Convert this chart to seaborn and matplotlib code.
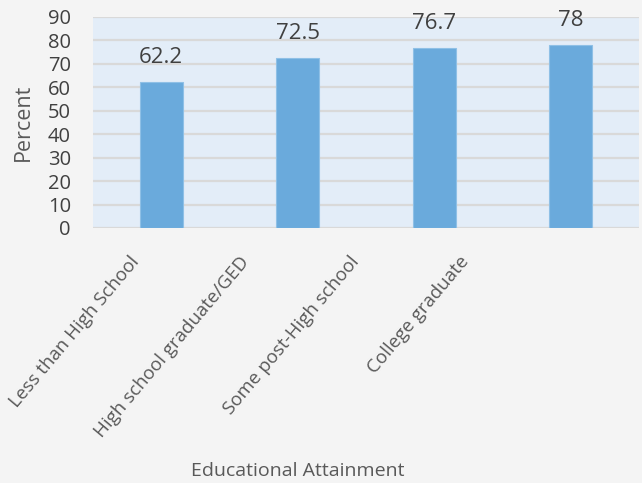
import matplotlib
matplotlib.use("Agg")
import matplotlib.pyplot as plt
import matplotlib.transforms as mtransforms
import seaborn as sns
import pandas as pd

categories = ["Less than High School", "High school graduate/GED",
              "Some post-High school", "College graduate"]
values = [62.2, 72.5, 76.7, 78]
value_labels = ["62.2", "72.5", "76.7", "78"]
yticks = [0, 10, 20, 30, 40, 50, 60, 70, 80, 90]

df = pd.DataFrame({"Educational Attainment": categories, "Percent": values})

sns.set_theme(style="white")
plt.rcParams["font.family"] = ["Open Sans", "DejaVu Sans"]

fig = plt.figure(figsize=(6.42, 4.83), dpi=100, facecolor="#f4f4f4")
ax = fig.add_axes([0.145, 0.528, 0.85, 0.437])
ax.set_facecolor("#e3edf8")

sns.barplot(data=df, x="Educational Attainment", y="Percent", ax=ax,
            color="#6aaadc", width=0.315, edgecolor="#8fc0e6", linewidth=0.8,
            saturation=1, zorder=3)

ax.set_ylim(0, 90)
ax.set_xlim(-0.5, 3.5)
ax.set_yticks(yticks)
ax.yaxis.grid(True, color="#d9d9d9", linewidth=1.6, zorder=0)
ax.set_axisbelow(True)
for s in ax.spines.values():
    s.set_visible(False)
ax.tick_params(axis="y", length=0, pad=16, labelsize=14.5, labelcolor="#404040")
ax.tick_params(axis="x", length=0)

for p, lab in zip(ax.patches, value_labels):
    ax.annotate(lab, (p.get_x() + p.get_width() / 2, p.get_height()),
                xytext=(0, 10), textcoords="offset points",
                ha="center", va="bottom", fontsize=16, color="#404040")

ax.set_xticks(range(len(categories)))
ax.set_xticklabels(categories, rotation=50, ha="right", va="top",
                   rotation_mode="anchor", fontsize=13.5, color="#595959")
for i, t in enumerate(ax.get_xticklabels()):
    dx = -(32 + 26.5 * i) / 100.0
    t.set_transform(t.get_transform() +
                    mtransforms.ScaledTranslation(dx, -0.2, fig.dpi_scale_trans))

ax.set_ylabel("Percent", fontsize=15.5, color="#595959")
ax.set_xlabel("Educational Attainment", fontsize=14, color="#595959", va="center")
ax.xaxis.set_label_coords(0.375, -1.15)
ax.yaxis.set_label_coords(-0.128, 0.5)
ax.yaxis.label.set_va("center")

fig.savefig("out.png", dpi=100, facecolor=fig.get_facecolor())
